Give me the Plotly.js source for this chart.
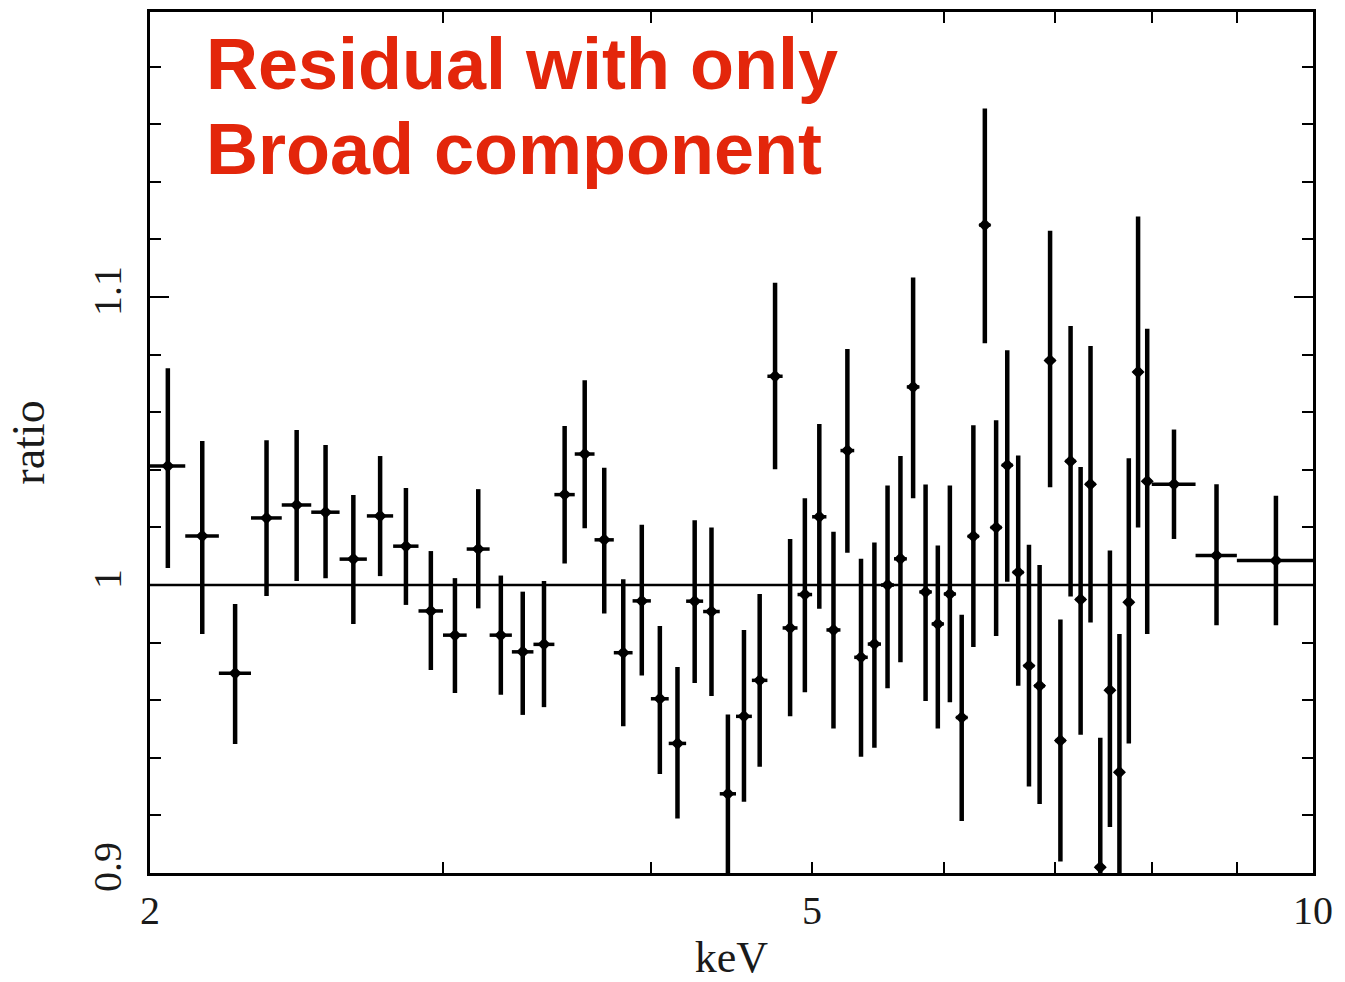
<!DOCTYPE html>
<html>
<head>
<meta charset="utf-8">
<script src="https://cdn.plot.ly/plotly-3.0.1.min.js"></script>
<style>
  html, body { margin: 0; padding: 0; background: #ffffff; }
  #chart { width: 1345px; height: 982px; }
</style>
</head>
<body>
<div id="chart"></div>
<script>
// Energy bin centres (keV) and half-widths (keV)
const energy = [2.05, 2.15, 2.25, 2.35, 2.45, 2.55, 2.65, 2.75, 2.85, 2.95,
                3.05, 3.15, 3.25, 3.35, 3.45, 3.55, 3.65, 3.75, 3.85, 3.95,
                4.05, 4.15, 4.25, 4.35, 4.45, 4.55, 4.65, 4.75, 4.85, 4.95,
                5.05, 5.15, 5.25, 5.35, 5.45, 5.55, 5.65, 5.75, 5.85, 5.95,
                6.05, 6.15, 6.25, 6.35, 6.45, 6.55, 6.65, 6.75, 6.85, 6.95,
                7.05, 7.15, 7.25, 7.35, 7.45, 7.55, 7.65, 7.75, 7.85, 7.95,
                8.25, 8.75, 9.5];
const energyHalfWidth = [0.05, 0.05, 0.05, 0.05, 0.05, 0.05, 0.05, 0.05, 0.05, 0.05,
                         0.05, 0.05, 0.05, 0.05, 0.05, 0.05, 0.05, 0.05, 0.05, 0.05,
                         0.05, 0.05, 0.05, 0.05, 0.05, 0.05, 0.05, 0.05, 0.05, 0.05,
                         0.05, 0.05, 0.05, 0.05, 0.05, 0.05, 0.05, 0.05, 0.05, 0.05,
                         0.05, 0.05, 0.05, 0.05, 0.05, 0.05, 0.05, 0.05, 0.05, 0.05,
                         0.05, 0.05, 0.05, 0.05, 0.05, 0.05, 0.05, 0.05, 0.05, 0.05,
                         0.25, 0.25, 0.5];
// Data/model ratio and its upper / lower error-bar ends
const ratio = [1.0413, 1.017, 0.9694, 1.0233, 1.0278, 1.0253, 1.009, 1.024, 1.0135, 0.991,
               0.9826, 1.0125, 0.9826, 0.9768, 0.9794, 1.0314, 1.0455, 1.0157, 0.9765, 0.9945,
               0.9605, 0.945, 0.9944, 0.9908, 0.9275, 0.9544, 0.9669, 1.0725, 0.9851, 0.9967,
               1.0237, 0.9844, 1.0467, 0.9749, 0.9795, 1.0, 1.0091, 1.0688, 0.9976, 0.9865,
               0.9969, 0.954, 1.0169, 1.125, 1.02, 1.0416, 1.0044, 0.972, 0.965, 1.078,
               0.946, 1.043, 0.995, 1.035, 0.902, 0.9635, 0.935, 0.994, 1.074, 1.036,
               1.035, 1.0103, 1.0085];
const ratioHigh = [1.0753, 1.050, 0.9934, 1.0503, 1.0538, 1.0486, 1.0313, 1.0448, 1.0337, 1.0118,
                   1.0024, 1.0333, 1.0033, 0.9977, 1.0014, 1.0552, 1.0711, 1.0407, 1.002, 1.0209,
                   0.9858, 0.9715, 1.0225, 1.020, 0.955, 0.9844, 0.9969, 1.105, 1.016, 1.0301,
                   1.0559, 1.0185, 1.082, 1.0091, 1.0148, 1.0346, 1.0448, 1.1068, 1.0349, 1.0137,
                   1.0346, 0.9897, 1.0555, 1.1655, 1.0572, 1.0815, 1.045, 1.014, 1.007, 1.123,
                   0.988, 1.090, 1.041, 1.083, 0.947, 1.012, 0.983, 1.044, 1.128, 1.089,
                   1.054, 1.035, 1.031];
const ratioLow = [1.0059, 0.983, 0.9448, 0.9962, 1.0014, 1.0024, 0.9865, 1.0031, 0.9931, 0.9705,
                  0.9625, 0.9919, 0.9619, 0.9549, 0.9576, 1.0075, 1.0197, 0.9901, 0.951, 0.9686,
                  0.9344, 0.9189, 0.966, 0.9615, 0.88, 0.9247, 0.9369, 1.0402, 0.9544, 0.9628,
                  0.9918, 0.9502, 1.0112, 0.9404, 0.9435, 0.9642, 0.9732, 1.0301, 0.9597, 0.9502,
                  0.9593, 0.9181, 0.9785, 1.084, 0.9823, 1.0011, 0.965, 0.930, 0.924, 1.034,
                  0.904, 0.996, 0.948, 0.987, 0.88, 0.916, 0.88, 0.945, 1.020, 0.983,
                  1.016, 0.986, 0.986];
const xTickVals = [2, 3, 4, 5, 6, 7, 8, 9, 10];
const xTickText = ['2', '', '', '5', '', '', '', '', '10'];
const yTickVals = [0.9, 1.0, 1.1];
const yTickText = ['0.9', '1', '1.1'];

const errPlus = ratio.map((v, i) => ratioHigh[i] - v);
const errMinus = ratio.map((v, i) => v - ratioLow[i]);

const trace = {
  x: energy,
  y: ratio,
  type: 'scatter',
  mode: 'markers',
  marker: { symbol: 'diamond', size: 10, color: '#000000' },
  error_y: { type: 'data', symmetric: false, array: errPlus, arrayminus: errMinus,
             color: '#000000', thickness: 4.5, width: 0 },
  error_x: { type: 'data', array: energyHalfWidth, color: '#000000', thickness: 3.5, width: 0 },
  hoverinfo: 'x+y'
};

const serif = 'Liberation Serif, Times New Roman, serif';
const layout = {
  width: 1345,
  height: 982,
  margin: { l: 150, r: 32, t: 12, b: 109 },
  paper_bgcolor: '#ffffff',
  plot_bgcolor: '#ffffff',
  showlegend: false,
  xaxis: {
    type: 'log',
    range: [Math.log10(2), 1],
    tickmode: 'array',
    tickvals: xTickVals,
    ticktext: xTickText,
    ticks: 'inside',
    ticklen: 11,
    tickwidth: 2,
    tickcolor: '#000',
    showline: true,
    linecolor: '#000',
    linewidth: 3,
    mirror: 'ticks',
    showgrid: false,
    zeroline: false,
    tickfont: { family: serif, size: 40, color: '#1a1a1a' },
    title: { text: 'keV', font: { family: serif, size: 44, color: '#1a1a1a' }, standoff: 12 }
  },
  yaxis: {
    range: [0.9, 1.199],
    tickmode: 'array',
    tickvals: yTickVals,
    ticktext: yTickText,
    tickangle: -90,
    ticklabelstandoff: 10,
    ticks: 'inside',
    ticklen: 19,
    tickwidth: 2,
    tickcolor: '#000',
    minor: { dtick: 0.02, tick0: 0.9, ticks: 'inside', ticklen: 11, tickwidth: 2, tickcolor: '#000' },
    showline: true,
    linecolor: '#000',
    linewidth: 3,
    mirror: 'ticks',
    showgrid: false,
    zeroline: false,
    tickfont: { family: serif, size: 40, color: '#1a1a1a' },
    title: { text: 'ratio', font: { family: serif, size: 46, color: '#1a1a1a' }, standoff: 26 }
  },
  shapes: [
    { type: 'line', xref: 'paper', x0: 0, x1: 1, yref: 'y', y0: 1, y1: 1,
      line: { color: '#000', width: 2.5 } }
  ],
  annotations: [
    { xref: 'paper', yref: 'paper', x: 0.0465, y: 0.988, xanchor: 'left', yanchor: 'top',
      text: '<b>Residual with only</b>', showarrow: false,
      font: { family: 'Liberation Sans, Arial, sans-serif', size: 72, color: '#e3260b' } },
    { xref: 'paper', yref: 'paper', x: 0.0465, y: 0.8892, xanchor: 'left', yanchor: 'top',
      text: '<b>Broad component</b>', showarrow: false,
      font: { family: 'Liberation Sans, Arial, sans-serif', size: 72, color: '#e3260b' } }
  ]
};

Plotly.newPlot('chart', [trace], layout, { displayModeBar: false, staticPlot: true });
</script>
</body>
</html>
